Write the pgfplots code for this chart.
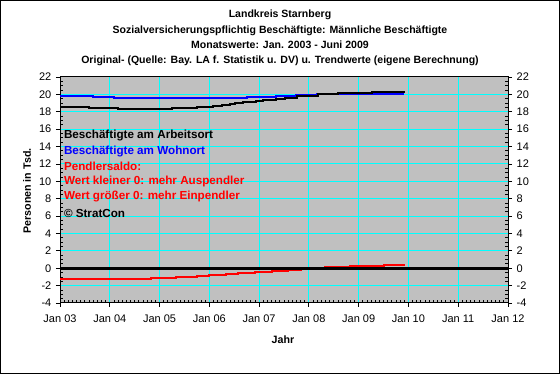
\documentclass[border=0pt]{standalone}
\usepackage{pgfplots}
\pgfplotsset{compat=1.18}
\usepackage{fontspec}
\setmainfont{Liberation Sans}
\definecolor{plotgray}{HTML}{C0C0C0}
\definecolor{gridcyan}{HTML}{00FFFF}
\begin{document}
\begin{tikzpicture}
\path[use as bounding box] (0pt,0pt) rectangle (420pt,280.5pt);
\fill[white] (0pt,0pt) rectangle (420pt,280.5pt);
\draw[black, line width=1.1pt] (0.55pt,0.55pt) rectangle (419.45pt,279.95pt);
% titles
\node[font=\bfseries\fontsize{7.9}{10}\selectfont] at (210pt,269.25pt) {Landkreis Starnberg};
\node[font=\bfseries\fontsize{7.9}{10}\selectfont] at (210pt,257.5pt) {Sozialversicherungspflichtig Beschäftigte: Männliche Beschäftigte};
\node[font=\bfseries\fontsize{7.9}{10}\selectfont] at (210pt,246.75pt) {Monatswerte: Jan. 2003 - Juni 2009};
\node[font=\bfseries\fontsize{7.9}{10}\selectfont] at (210pt,235pt) {Original- (Quelle: Bay. LA f. Statistik u. DV) u. Trendwerte (eigene Berechnung)};
\node[font=\bfseries\fontsize{8}{10}\selectfont, rotate=90] at (20.25pt,137.25pt) {Personen in Tsd.};
\node[font=\bfseries\fontsize{8}{10}\selectfont] at (212.25pt,25.5pt) {Jahr};
\begin{axis}[
  at={(45pt,53.25pt)}, anchor=south west,
  scale only axis, width=336pt, height=169.5pt,
  xmin=0, xmax=108, ymin=-4, ymax=22,
  axis background/.style={fill=plotgray},
  xtick={0,12,...,108},
  xticklabels={Jan 03,Jan 04,Jan 05,Jan 06,Jan 07,Jan 08,Jan 09,Jan 10,Jan 11,Jan 12},
  minor x tick num=11,
  ytick={-4,-2,...,22},
  minor y tick num=3,
  grid=major,
  major grid style={gridcyan, line width=0.75pt},
  tick align=outside,
  major tick length=3pt,
  minor tick length=-2pt,
  tick style={black, line width=0.6pt},
  xtick pos=bottom, ytick pos=left,
  ticklabel style={font=\fontsize{8.25}{10}\selectfont},
  xticklabel style={yshift=-2.5pt},
  /pgf/number format/assume math mode=true,
  axis line style={black, line width=0.75pt},
  clip=false,
]
\addplot[blue, line width=1.5pt, const plot] coordinates {
(0,19.87)(8,19.72)(13,19.64)(20,19.53)(45,19.69)(52,19.80)(57,19.92)(62,19.99)(83,19.99)};
\addplot[black, line width=1.5pt, const plot] coordinates {
(0,18.60)(7,18.49)(14,18.37)(27,18.49)(33,18.60)(37,18.72)(39,18.83)(41,18.92)(42.2,19.03)(44.1,19.15)(47.3,19.26)(48.9,19.38)(52.1,19.49)(54.2,19.61)(57.1,19.76)(60,19.87)(62.3,19.99)(64.3,20.10)(67.1,20.18)(75.1,20.30)(83.2,20.30)};
\addplot[red, line width=1.5pt, const plot] coordinates {
(0,-1.27)(22,-1.12)(28,-1.00)(33,-0.89)(36,-0.77)(40,-0.66)(43,-0.54)(47,-0.39)(51,-0.31)(55,-0.20)(58,-0.05)(61,0.08)(64,0.15)(70,0.27)(78,0.38)(83.2,0.38)};
\addplot[black, line width=2.25pt] coordinates {(0,0)(108,0)};
\begin{scope}[every node/.style={anchor=west, inner sep=0pt, font=\bfseries\fontsize{8.75}{10}\selectfont}]
\node[text=black] at (axis cs:0.9,15.3) {Beschäftigte am Arbeitsort};
\node[text=blue] at (axis cs:0.9,13.45) {Beschäftigte am Wohnort};
\node[text=red] at (axis cs:0.9,11.72) {Pendlersaldo:};
\node[text=red] at (axis cs:0.9,10.03) {Wert kleiner 0: mehr Auspendler};
\node[text=red] at (axis cs:0.9,8.3) {Wert größer 0: mehr Einpendler};
\node[text=black] at (axis cs:0.9,6.25) {© StratCon};
\end{scope}
\end{axis}
\begin{axis}[
  at={(45pt,53.25pt)}, anchor=south west,
  scale only axis, width=336pt, height=169.5pt,
  xmin=0, xmax=108, ymin=-4, ymax=22,
  axis x line=none, axis y line*=right,
  ytick={-4,-2,...,22},
  minor y tick num=3,
  tick align=outside,
  major tick length=3pt,
  minor tick length=-2pt,
  tick style={black, line width=0.6pt},
  ticklabel style={font=\fontsize{8.25}{10}\selectfont},
  /pgf/number format/assume math mode=true,
  axis line style={black, line width=0.75pt},
]
\addplot[draw=none] coordinates {(0,0)};
\end{axis}
\end{tikzpicture}
\end{document}
